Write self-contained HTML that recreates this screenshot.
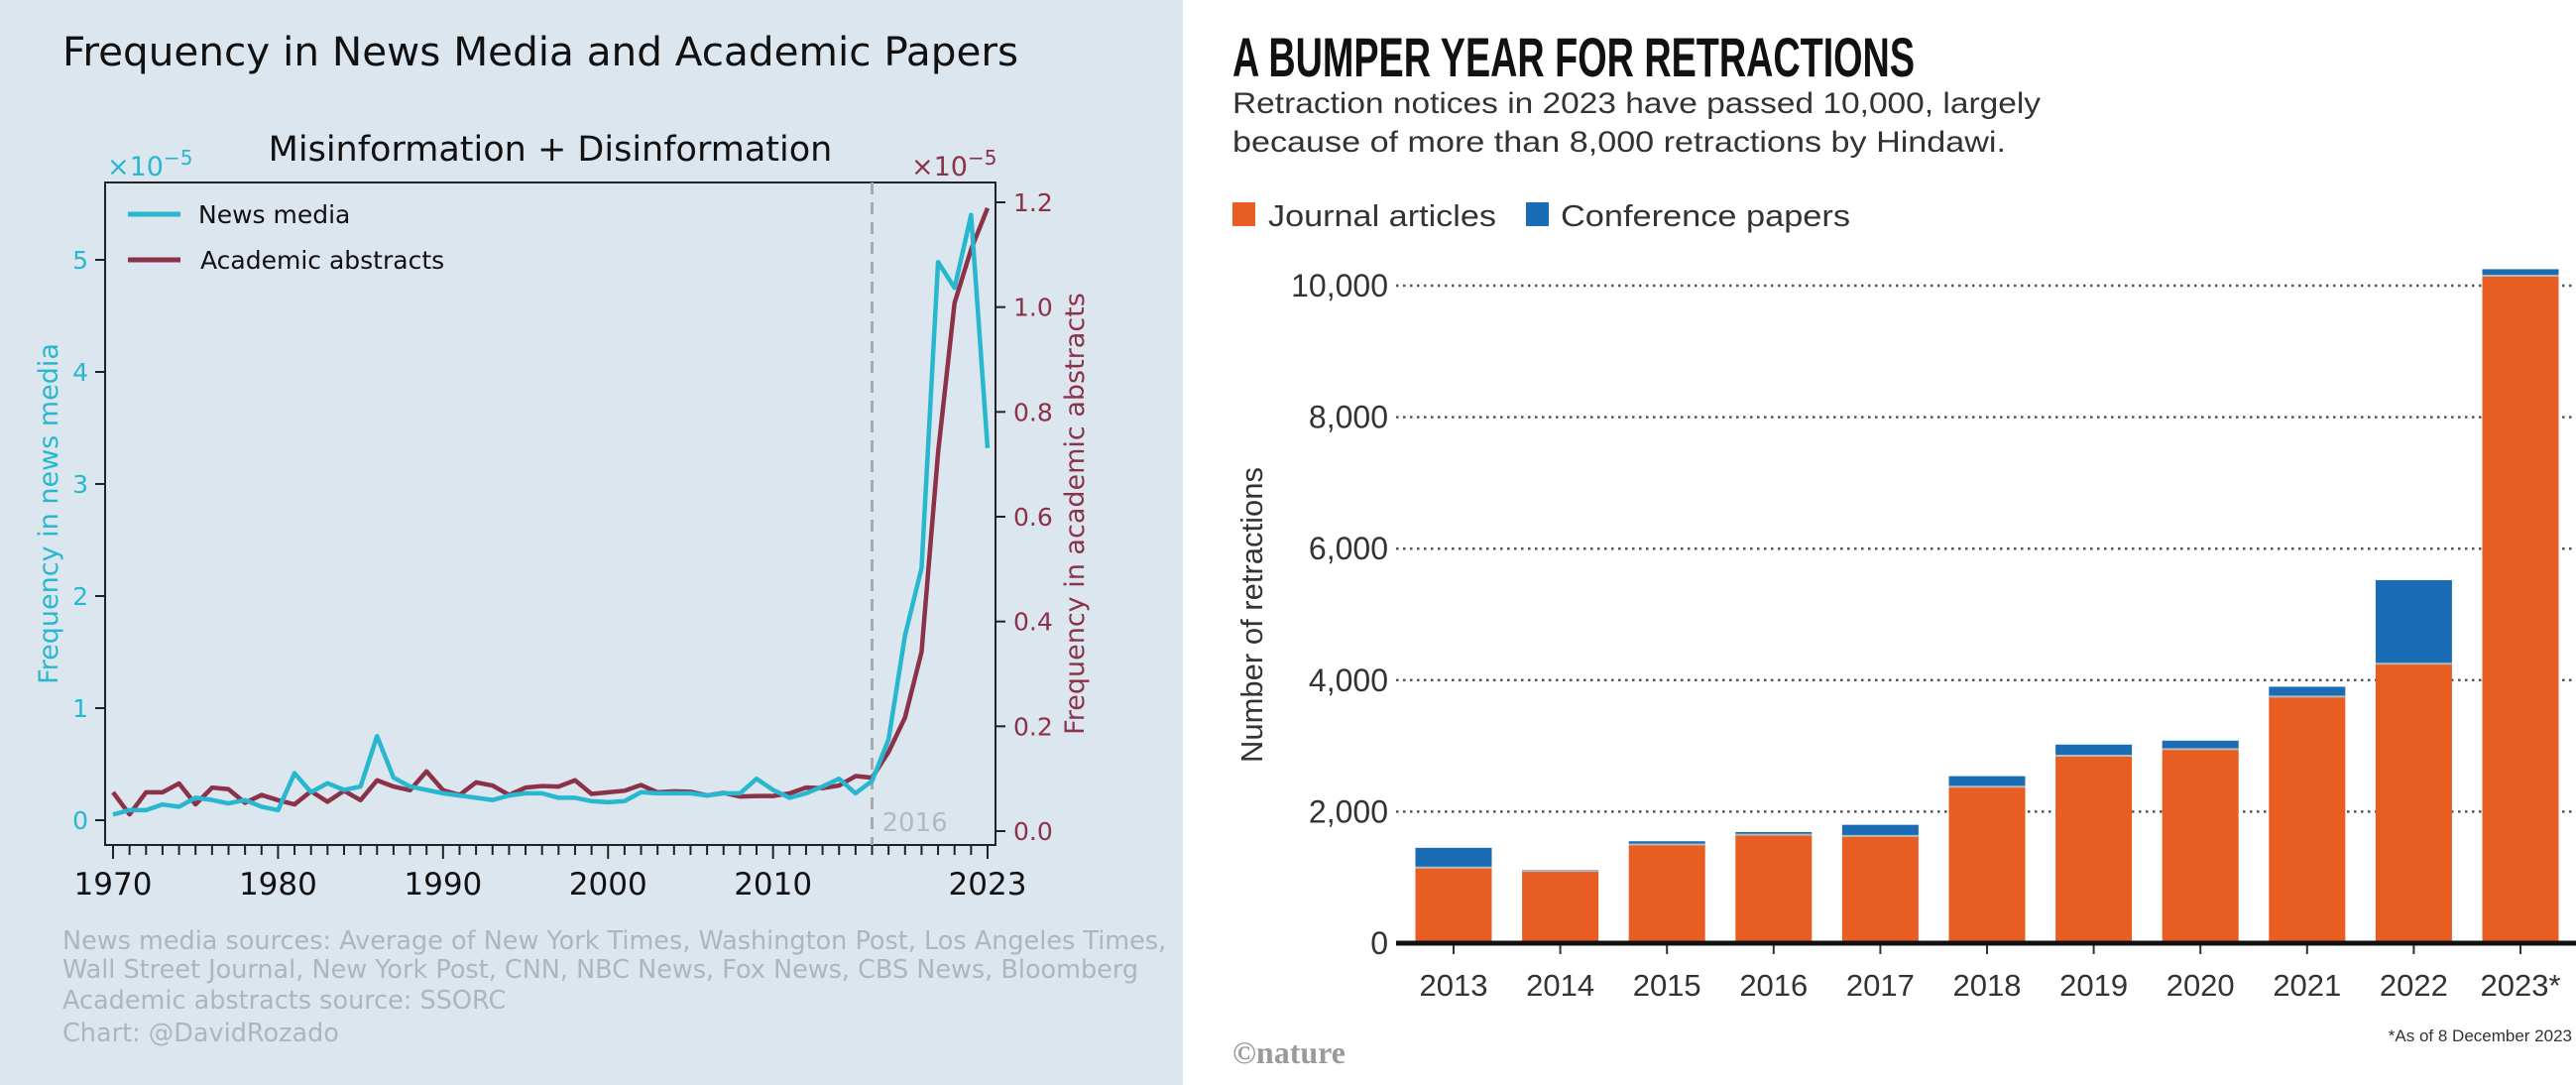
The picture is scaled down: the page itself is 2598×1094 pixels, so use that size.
<!DOCTYPE html>
<html><head><meta charset="utf-8"><style>
html,body{margin:0;padding:0;width:2598px;height:1094px;overflow:hidden;background:#fff}
svg{display:block}
</style></head><body>
<svg id="root" width="2598" height="1094" xmlns="http://www.w3.org/2000/svg">
<rect x="0" y="0" width="1193" height="1094" fill="#dce6ee"/>
<rect x="1193" y="0" width="1405" height="1094" fill="#ffffff"/>
<text x="63" y="66" font-family="DejaVu Sans, Liberation Sans, sans-serif" font-size="40.5" fill="#111">Frequency in News Media and Academic Papers</text>
<text x="555" y="162" text-anchor="middle" font-family="DejaVu Sans, Liberation Sans, sans-serif" font-size="35" fill="#111">Misinformation + Disinformation</text>
<g id="left"></g>
<g font-family="DejaVu Sans, Liberation Sans, sans-serif" font-size="25.5" fill="#aab6c0">
<text x="63" y="957">News media sources: Average of New York Times, Washington Post, Los Angeles Times,</text>
<text x="63" y="986">Wall Street Journal, New York Post, CNN, NBC News, Fox News, CBS News, Bloomberg</text>
<text x="63" y="1017">Academic abstracts source: SSORC</text>
<text x="63" y="1050">Chart: @DavidRozado</text>
</g>
<text x="1243" y="77" font-family="Liberation Sans Narrow, Liberation Sans, sans-serif" font-weight="bold" font-size="56" textLength="688" lengthAdjust="spacingAndGlyphs" fill="#111">A BUMPER YEAR FOR RETRACTIONS</text>
<text x="1243" y="114" font-family="Liberation Sans, sans-serif" font-size="30" textLength="815" lengthAdjust="spacingAndGlyphs" fill="#333">Retraction notices in 2023 have passed 10,000, largely</text>
<text x="1243" y="153" font-family="Liberation Sans, sans-serif" font-size="30" textLength="780" lengthAdjust="spacingAndGlyphs" fill="#333">because of more than 8,000 retractions by Hindawi.</text>
<rect x="1243" y="204" width="23" height="24" fill="#e85d22"/>
<text x="1279" y="228" font-family="Liberation Sans, sans-serif" font-size="31" textLength="230" lengthAdjust="spacingAndGlyphs" fill="#333">Journal articles</text>
<rect x="1539" y="204" width="23" height="24" fill="#1a6cb4"/>
<text x="1574" y="228" font-family="Liberation Sans, sans-serif" font-size="31" textLength="292" lengthAdjust="spacingAndGlyphs" fill="#333">Conference papers</text>
<g id="right"></g>
<text x="1243" y="1072" font-family="Liberation Serif, serif" font-weight="bold" font-size="32" fill="#9a9a9a">©nature</text>
<text x="2594" y="1050" text-anchor="end" font-family="Liberation Sans, sans-serif" font-size="17" fill="#333">*As of 8 December 2023</text>
</svg>
<script>
const years = [];
for (let y = 1970; y <= 2023; y++) years.push(y);
const newsMedia = [0.05,0.09,0.09,0.14,0.12,0.2,0.18,0.15,0.18,0.12,0.09,0.42,0.25,0.33,0.27,0.3,0.75,0.38,0.3,0.27,0.24,0.22,0.2,0.18,0.22,0.24,0.24,0.2,0.2,0.17,0.16,0.17,0.25,0.24,0.24,0.24,0.22,0.24,0.24,0.37,0.27,0.2,0.24,0.3,0.37,0.24,0.35,0.72,1.65,2.25,4.98,4.75,5.4,3.32];
const academic = [0.074,0.032,0.074,0.074,0.091,0.051,0.083,0.08,0.054,0.069,0.059,0.051,0.076,0.056,0.077,0.059,0.097,0.085,0.078,0.114,0.078,0.069,0.093,0.087,0.069,0.083,0.086,0.085,0.097,0.071,0.074,0.077,0.088,0.074,0.076,0.075,0.068,0.073,0.066,0.067,0.067,0.072,0.083,0.082,0.087,0.105,0.102,0.151,0.217,0.342,0.722,1.008,1.11,1.189];
const leftTicks = [0,1,2,3,4,5];
const rightTicks = [0.0,0.2,0.4,0.6,0.8,1.0,1.2];
const xTickLabels = [1970,1980,1990,2000,2010,2023];
const markerYear = 2016;

const barYears = ["2013","2014","2015","2016","2017","2018","2019","2020","2021","2022","2023*"];
const journal = [1150,1100,1500,1650,1630,2380,2850,2950,3750,4250,10150];
const conference = [300,15,50,40,170,160,170,130,150,1270,100];
const barTicks = [0,2000,4000,6000,8000,10000];

const NS = "http://www.w3.org/2000/svg";
function mk(parent, tag, attrs, text) {
  const e = document.createElementNS(NS, tag);
  for (const k in attrs) e.setAttribute(k, attrs[k]);
  if (text !== undefined) e.textContent = text;
  parent.appendChild(e);
  return e;
}
const FONT = "DejaVu Sans, Liberation Sans, sans-serif";
const TEAL = "#27b7cf", MAROON = "#8b3148";

const L = document.getElementById('left');
const px0 = 106, px1 = 1004, py0 = 184, py1 = 852;
const xs = y => 114 + (y - 1970) * (996 - 114) / 53;
const yl = v => 827 - v * 113;
const yr = v => 838 - v * (838 - 204) / 1.2;

let e = mk(L, 'rect', {x:px0, y:py0, width:px1-px0, height:py1-py0, fill:'none', stroke:'#222', 'stroke-width':2});



e = mk(L, 'line', {x1:xs(markerYear), x2:xs(markerYear), y1:py0, y2:py1, stroke:'#a9a9a9', 'stroke-width':3, 'stroke-dasharray':'12 8'});


e = mk(L, 'text', {x:xs(markerYear)+10, y:838, 'font-family':FONT, 'font-size':26, fill:'#b5b9bd'}, String(markerYear));



years.forEach(y => {
  const major = xTickLabels.includes(y);
  const t = mk(L, 'line', {x1:xs(y), x2:xs(y), y1:py1, y2:py1+(major?14:10), stroke:'#222', 'stroke-width':2});
  
  
});
xTickLabels.forEach(y => {
  const t = mk(L, 'text', {x:xs(y), y:902, 'text-anchor':'middle', 'font-family':FONT, 'font-size':31, fill:'#111'}, String(y));
  
  
});
leftTicks.forEach(v => {
  let t = mk(L, 'line', {x1:px0-10, x2:px0, y1:yl(v), y2:yl(v), stroke:'#222', 'stroke-width':2});
  
  
  t = mk(L, 'text', {x:px0-17, y:yl(v)+9, 'text-anchor':'end', 'font-family':FONT, 'font-size':25, fill:TEAL}, String(v));
  
  
});
rightTicks.forEach(v => {
  let t = mk(L, 'line', {x1:px1, x2:px1+10, y1:yr(v), y2:yr(v), stroke:'#222', 'stroke-width':2});
  
  
  t = mk(L, 'text', {x:px1+18, y:yr(v)+9, 'font-family':FONT, 'font-size':25, fill:MAROON}, v.toFixed(1));
  
  
});
e = mk(L, 'text', {x:108, y:177, 'font-family':FONT, 'font-size':27, fill:TEAL}, '×10');


mk(e, 'tspan', {dy:-11, 'font-size':20}, '−5');
e = mk(L, 'text', {x:919, y:177, 'font-family':FONT, 'font-size':27, fill:MAROON}, '×10');


mk(e, 'tspan', {dy:-11, 'font-size':20}, '−5');
e = mk(L, 'text', {x:0, y:0, transform:'translate(58,518) rotate(-90)', 'text-anchor':'middle', 'font-family':FONT, 'font-size':27, fill:TEAL}, 'Frequency in news media');


e = mk(L, 'text', {x:0, y:0, transform:'translate(1093,518) rotate(-90)', 'text-anchor':'middle', 'font-family':FONT, 'font-size':27, fill:MAROON}, 'Frequency in academic abstracts');



e = mk(L, 'polyline', {points: years.map((y,i)=>xs(y)+','+yr(academic[i])).join(' '), fill:'none', stroke:MAROON, 'stroke-width':4.5, 'stroke-linejoin':'round'});


e = mk(L, 'polyline', {points: years.map((y,i)=>xs(y)+','+yl(newsMedia[i])).join(' '), fill:'none', stroke:TEAL, 'stroke-width':4.5, 'stroke-linejoin':'round'});



e = mk(L, 'line', {x1:129, x2:182, y1:216, y2:216, stroke:TEAL, 'stroke-width':5});


e = mk(L, 'text', {x:200, y:225, 'font-family':FONT, 'font-size':25, fill:'#111'}, 'News media');


e = mk(L, 'line', {x1:129, x2:182, y1:262, y2:262, stroke:MAROON, 'stroke-width':5});


e = mk(L, 'text', {x:202, y:271, 'font-family':FONT, 'font-size':25, fill:'#111'}, 'Academic abstracts');



const R = document.getElementById('right');
const by = v => 951 - v * (951 - 288) / 10000;
const bx = i => 1466 + i * 107.6;
const bw = 77;
const RF = "Liberation Sans, sans-serif";
barTicks.forEach(v => {
  if (v > 0) {
    const g = mk(R, 'line', {x1:1408, x2:2598, y1:by(v), y2:by(v), stroke:'#555', 'stroke-width':2.5, 'stroke-dasharray':'2.5 4.5'});
    
    
  }
  const t = mk(R, 'text', {x:1400, y:by(v)+11, 'text-anchor':'end', 'font-family':RF, 'font-size':32, fill:'#333'}, v.toLocaleString('en-US'));
  
  
});
barYears.forEach((yr_, i) => {
  const j = journal[i], c = conference[i];
  let r = mk(R, 'rect', {x:bx(i)-bw/2, y:by(j), width:bw, height:by(0)-by(j), fill:'#e85d22'});
  
  
  r = mk(R, 'rect', {x:bx(i)-bw/2, y:by(j+c), width:bw, height:by(j)-by(j+c), fill:'#1a6cb4'});
  
  
  r = mk(R, 'line', {x1:bx(i)-bw/2, x2:bx(i)+bw/2, y1:by(j), y2:by(j), stroke:'#b9b9b9', 'stroke-width':2});
  
  
  r = mk(R, 'line', {x1:bx(i), x2:bx(i), y1:951, y2:962, stroke:'#333', 'stroke-width':2});
  
  
  r = mk(R, 'text', {x:bx(i), y:1004, 'text-anchor':'middle', 'font-family':RF, 'font-size':31, fill:'#333'}, yr_);
  
  
});
e = mk(R, 'line', {x1:1408, x2:2598, y1:951, y2:951, stroke:'#111', 'stroke-width':5});


e = mk(R, 'text', {x:0, y:0, transform:'translate(1273,620) rotate(-90)', 'text-anchor':'middle', 'font-family':RF, 'font-size':31, fill:'#333'}, 'Number of retractions');


</script>
</body></html>
